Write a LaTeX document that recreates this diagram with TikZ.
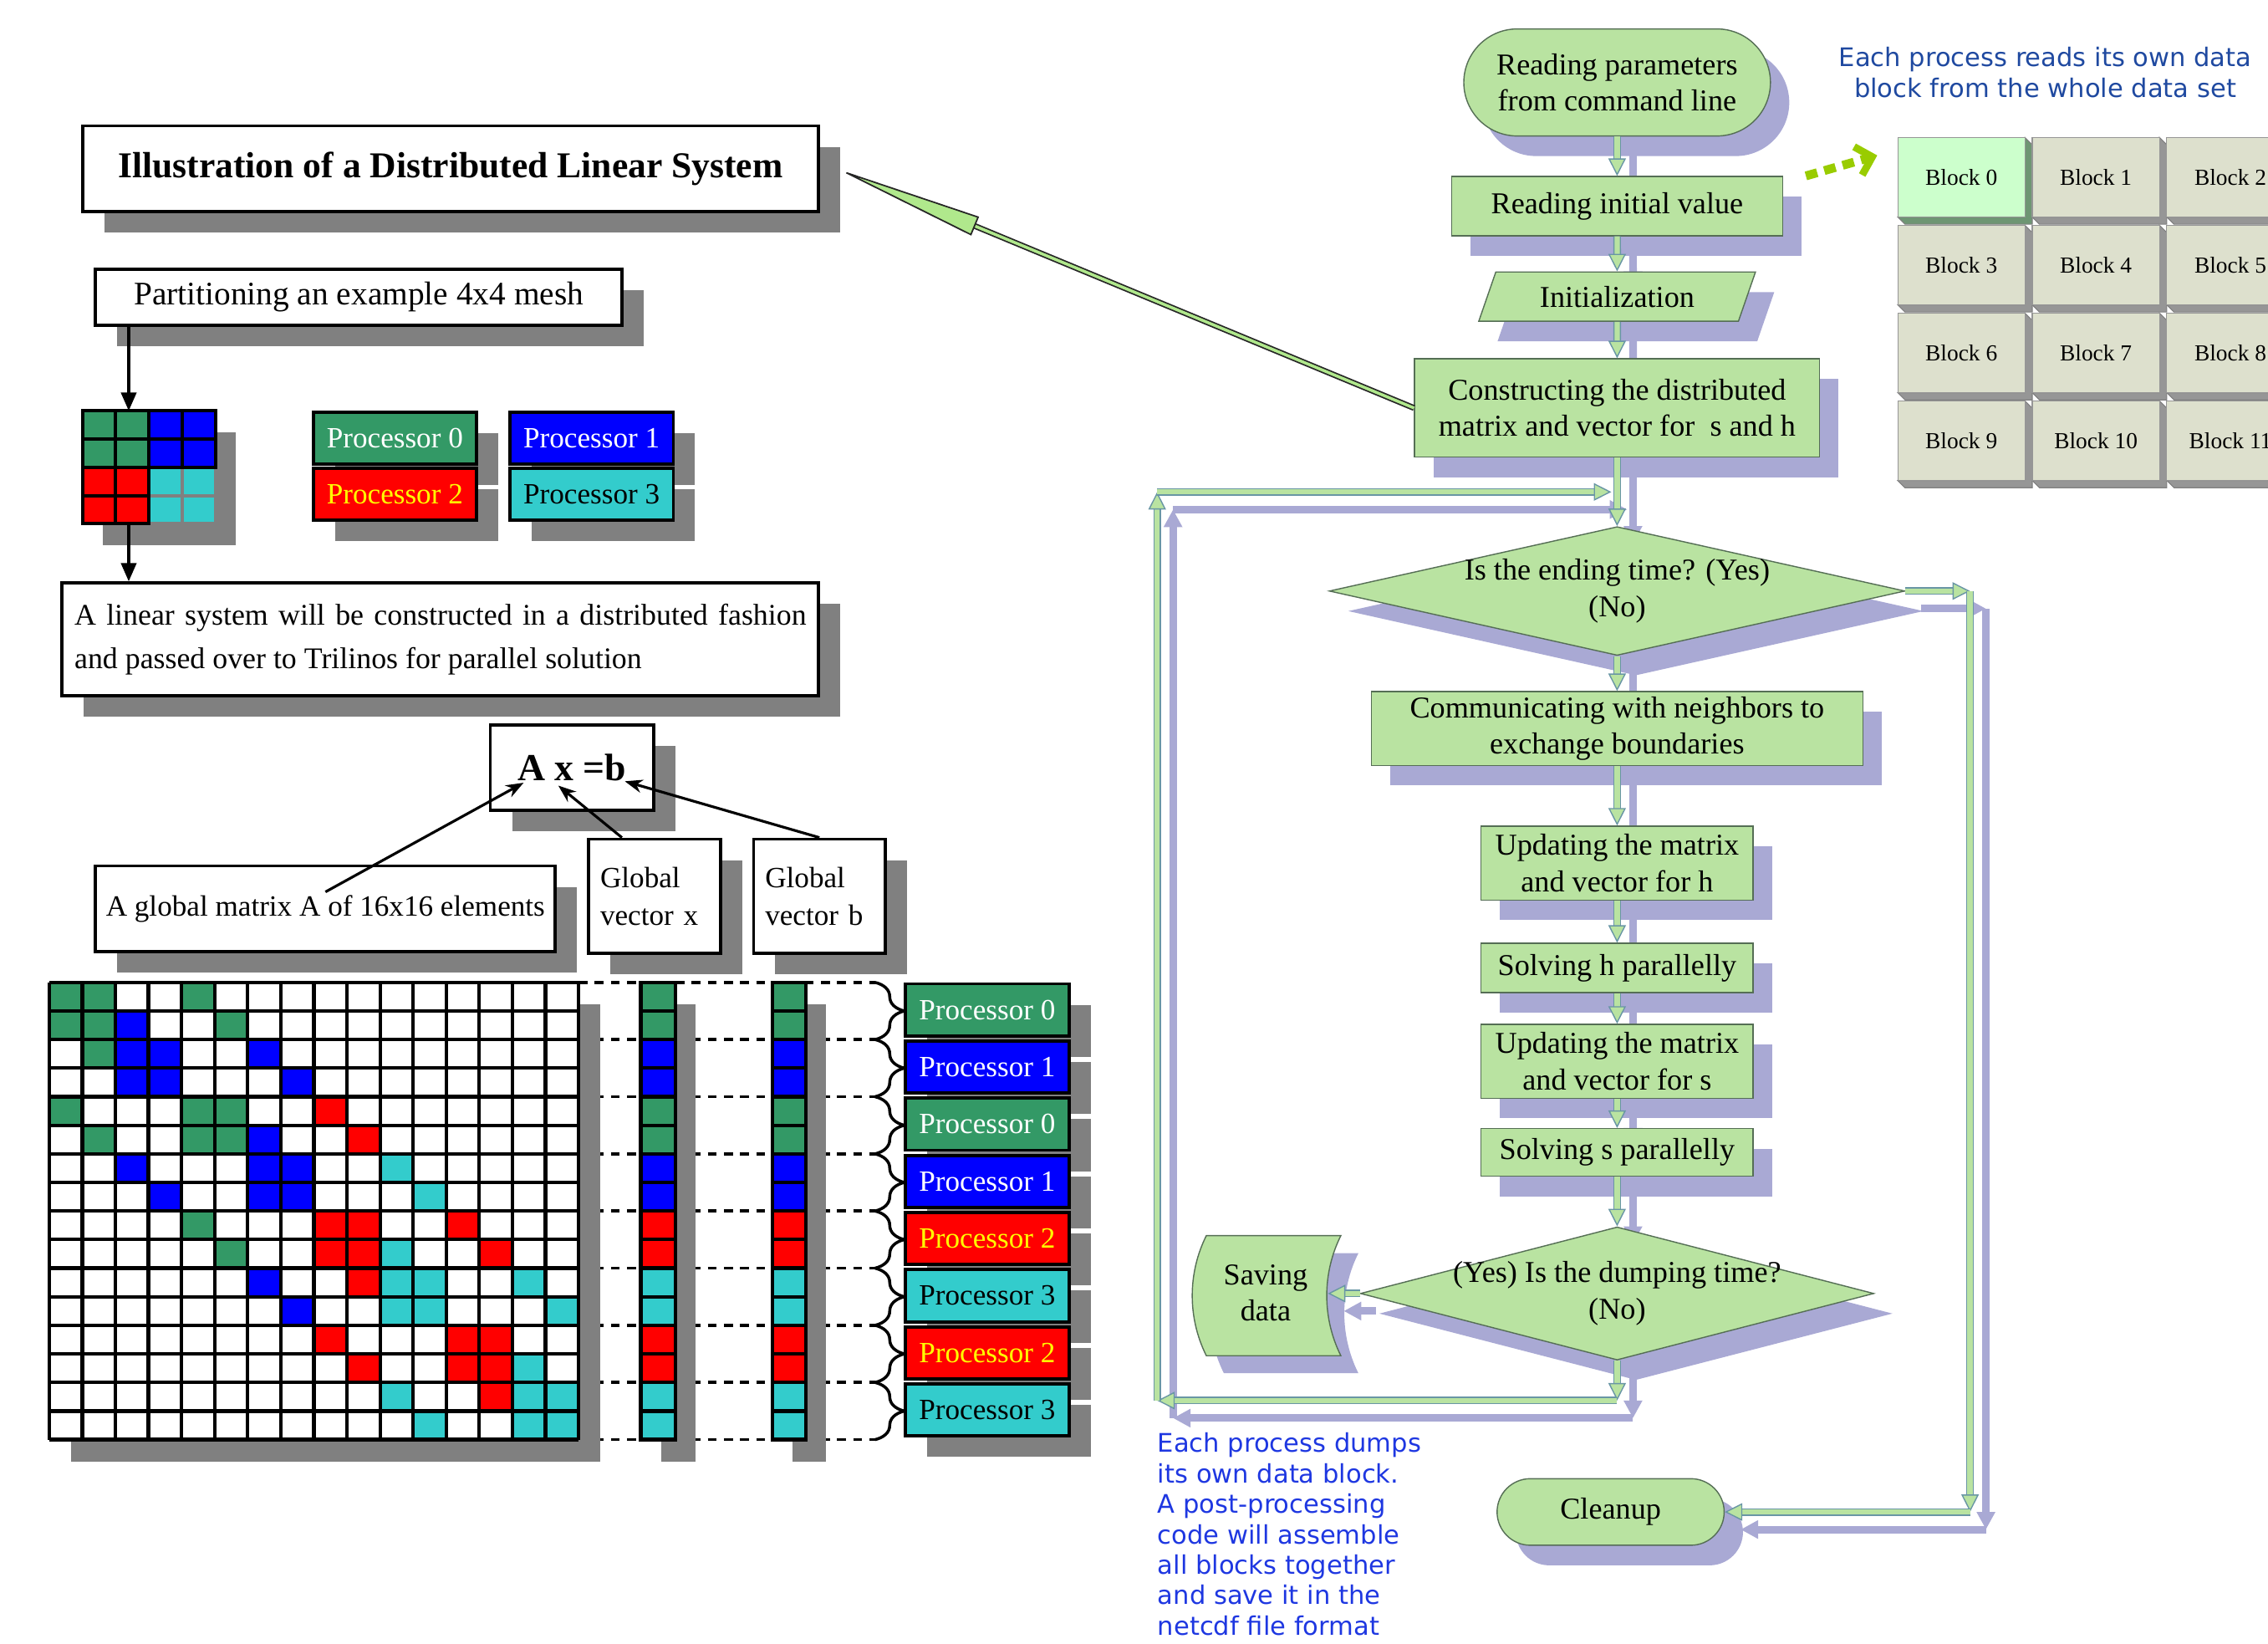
\documentclass[tikz,border=0pt]{standalone}
\usepackage{fontspec}
\setmainfont{Liberation Serif}
\newfontfamily\notefont{DejaVu Sans}
\usetikzlibrary{arrows.meta,shapes.geometric,shapes.misc,shadows,decorations.pathreplacing,backgrounds}

\definecolor{G}{RGB}{51,153,102}
\definecolor{B}{RGB}{0,0,255}
\definecolor{R}{RGB}{255,0,0}
\definecolor{C}{RGB}{51,204,204}
\definecolor{procyellow}{RGB}{255,255,0}
\definecolor{boxshadow}{RGB}{128,128,128}
\definecolor{flowfill}{RGB}{185,227,161}
\definecolor{flowshadow}{RGB}{169,169,212}
\definecolor{flowedge}{RGB}{85,110,85}
\definecolor{linkedge}{RGB}{105,150,165}
\definecolor{blockface}{RGB}{221,224,205}
\definecolor{blockbevel}{RGB}{150,150,150}
\definecolor{blockzero}{RGB}{204,255,204}
\definecolor{blockzerobevel}{RGB}{110,150,115}
\definecolor{readblue}{RGB}{31,73,160}
\definecolor{dumpblue}{RGB}{30,55,225}
\definecolor{readarrow}{RGB}{153,204,0}
\definecolor{titlegreen}{RGB}{176,232,140}

\newcommand\upx{0.0173cm}
\newcommand\flowfont{\fontsize{10.3}{12.3}\selectfont}
\newcommand\flowlink[1]{%
  \draw[flowarrow] #1;
  \begin{pgfonlayer}{background}\draw[flowarrowshadow] #1;\end{pgfonlayer}}

\begin{document}
\begin{tikzpicture}[x=\upx, y=-\upx,
  plainbox/.style={draw, line width=1.1pt, fill=white, inner sep=0pt,
    drop shadow={shadow xshift=0.26cm, shadow yshift=-0.25cm, fill=boxshadow, opacity=1}},
  proc/.style={plainbox, minimum width=113*\upx, minimum height=36*\upx,
    font=\fontsize{10}{12}\selectfont},
  blackarrow/.style={line width=1.1pt, -{Triangle[length=0.22cm, width=0.18cm]}},
  eqpointer/.style={line width=0.9pt, -{Stealth[length=6pt, width=4.5pt]}},
  flow/.style={draw=flowedge, line width=0.4pt, fill=flowfill, inner sep=0pt,
    align=center, font=\flowfont,
    drop shadow={shadow xshift=0.225cm, shadow yshift=-0.24cm, fill=flowshadow, opacity=1}},
  flowtext/.style={inner sep=0pt, align=center, font=\flowfont},
  flowarrow/.style={draw=linkedge, line width=0.4pt, double=flowfill, double distance=1.8pt,
    -{Triangle[length=0.21cm, width=0.21cm, fill=flowfill, line width=0.4pt]}},
  flowarrowshadow/.style={draw=flowshadow, line width=2.6pt,
    -{Triangle[length=0.21cm, width=0.21cm]},
    transform canvas={xshift=0.19cm, yshift=-0.21cm}},
  blockbox/.style={draw=blockbevel, line width=0.3pt, minimum width=88*\upx,
    minimum height=55*\upx, inner sep=0pt, font=\fontsize{7.8}{9}\selectfont},
  notetext/.style={inner sep=0pt, font=\notefont\fontsize{8.7}{10.6}\selectfont},
  titlelink/.style={draw=black!85, line width=0.5pt, double=titlegreen, double distance=1pt,
    -{Triangle[length=1.8cm, width=0.24cm, fill=titlegreen, line width=0.5pt]}},
  blockarrow/.style={readarrow, line width=3pt, dash pattern=on 4pt off 2.5pt,
    -{Straight Barb[length=5pt, width=10pt, line width=2.5pt]}}]

\path[use as bounding box, clip] (0,0) rectangle (1568,1136);

% left: the distributed linear system
\node[plainbox, minimum width=509*\upx, minimum height=59*\upx,
  font=\bfseries\fontsize{12.4}{15}\selectfont] (title) at (311.5,116.5)
  {Illustration of a Distributed Linear System};
\node[plainbox, minimum width=364*\upx, minimum height=39*\upx,
  font=\fontsize{11.2}{13}\selectfont] (part) at (248,205.5)
  {Partitioning an example 4x4 mesh};

\fill[boxshadow] (71,299) rectangle (163,377);
\foreach \mr/\mc/\col/\edge in {2/2/C/gray,2/3/C/gray,3/2/C/gray,3/3/C/gray,
    0/0/G/black,0/1/G/black,1/0/G/black,1/1/G/black,0/2/B/black,0/3/B/black,
    1/2/B/black,1/3/B/black,2/0/R/black,2/1/R/black,3/0/R/black,3/1/R/black}
  \filldraw[fill=\col, draw=\edge, line width=1.1pt] (57+23*\mc,284+19.5*\mr) rectangle ++(23,19.5);
\coordinate (meshtop) at (89,284);
\coordinate (meshbot) at (89,362);

\node[proc, fill=G, text=white] (leg0) at (273,303) {Processor 0};
\node[proc, fill=B, text=white] (leg1) at (409,303) {Processor 1};
\node[proc, fill=R, text=procyellow] (leg2) at (273,341.5) {Processor 2};
\node[proc, fill=C] (leg3) at (409,341.5) {Processor 3};

\node[plainbox, minimum width=523*\upx, minimum height=78*\upx, text width=506*\upx,
  align=justify, font=\fontsize{10.2}{15}\selectfont] (lin) at (304.5,442)
  {A linear system will be constructed in a distributed fashion and passed over to Trilinos for parallel solution};

\draw[blackarrow] (part.south -| meshtop) -- (meshtop);
\draw[blackarrow] (meshbot) -- (meshbot |- lin.north);

\node[plainbox, minimum width=113*\upx, minimum height=59*\upx,
  font=\bfseries\fontsize{13}{15}\selectfont] (axb) at (395.5,530.5) {A x =b};
\node[plainbox, minimum width=318*\upx, minimum height=59*\upx,
  font=\fontsize{10}{12}\selectfont] (gmat) at (225,628)
  {A global matrix A of 16x16 elements};
\node[plainbox, minimum width=91*\upx, minimum height=79*\upx, text width=75*\upx,
  align=left, font=\fontsize{10}{12.8}\selectfont] (gvx) at (452.5,619.5) {Global\\vector x};
\node[plainbox, minimum width=91*\upx, minimum height=79*\upx, text width=75*\upx,
  align=left, font=\fontsize{10}{12.8}\selectfont] (gvb) at (566.5,619.5) {Global\\vector b};
\coordinate (tipA) at (362,541);
\coordinate (tipx) at (386,543);
\coordinate (tipb) at (432,540);
\draw[eqpointer] ([yshift=0.2cm]gmat.center) -- (tipA);
\draw[eqpointer] ([xshift=-0.39cm]gvx.north) -- (tipx);
\draw[eqpointer] (gvb.north) -- (tipb);

\foreach \k in {0,...,8}
  \draw[line width=1pt, dash pattern=on 3pt off 2.5pt] (400,679+39.5*\k) -- (605,679+39.5*\k);
\fill[boxshadow] (49,694) rectangle (415,1010);
\fill[boxshadow] (457,694) rectangle (481,1010);
\fill[boxshadow] (548,694) rectangle (571,1010);
\fill[white] (34,679) rectangle (400,995);
\foreach \cols [count=\mr from 0] in {{0,1,4},{0,1,2,5},{1,2,3,6},{2,3,7},{0,4,5,8},
    {1,4,5,6,9},{2,6,7,10},{3,6,7,11},{4,8,9,12},{5,8,9,10,13},{6,9,10,11,14},
    {7,10,11,15},{8,12,13},{9,12,13,14},{10,13,14,15},{11,14,15}}
  \foreach \mc in \cols {
    \pgfmathsetmacro\own{{"G","B","G","B","R","C","R","C"}[int(\mc/2)]}
    \fill[\own] (34+22.875*\mc,679+19.75*\mr) rectangle ++(22.875,19.75);
  }
\foreach \i in {0,...,16} {
  \draw[line width=1.2pt] (34+22.875*\i,679) -- ++(0,316);
  \draw[line width=1.2pt] (34,679+19.75*\i) -- ++(366,0);
}
\foreach \col [count=\mr from 0] in {G,G,B,B,G,G,B,B,R,R,C,C,R,R,C,C} {
  \filldraw[fill=\col, line width=1.2pt] (443,679+19.75*\mr) rectangle ++(24,19.75);
  \filldraw[fill=\col, line width=1.2pt] (534,679+19.75*\mr) rectangle ++(23,19.75);
}
\foreach \k in {0,...,7}
  \draw[line width=1pt, decorate, decoration={brace, amplitude=0.35cm}]
    (605,679+39.5*\k) -- (605,718.5+39.5*\k);
\foreach \lab/\fc/\tc [count=\k from 0] in {0/G/white,1/B/white,0/G/white,1/B/white,
    2/R/procyellow,3/C/black,2/R/procyellow,3/C/black}
  \node[proc, fill=\fc, text=\tc] (owner\k) at (682.5,698+39.5*\k) {Processor \lab};

% right: the flowchart
\node[flow, rounded rectangle, minimum width=212*\upx, minimum height=74*\upx] (start)
  at (1118,57) {Reading parameters\\from command line};
\node[flow, minimum width=229*\upx, minimum height=41*\upx] (readinit)
  at (1118,142.5) {Reading initial value};
\node[flow, trapezium, trapezium left angle=63, trapezium right angle=117,
  trapezium stretches=true, minimum width=192*\upx, minimum height=34*\upx] (init)
  at (1118,205) {Initialization};
\node[flow, minimum width=280*\upx, minimum height=68*\upx] (build)
  at (1118,282) {Constructing the distributed\\matrix and vector for\ \ s and h};
\node[flow, diamond, minimum width=398*\upx, minimum height=89*\upx] (endq) at (1118,408.5) {};
\node[flowtext] (endqlabel) at (endq) {Is the ending time? (Yes)\\(No)};
\node[flow, minimum width=340*\upx, minimum height=51*\upx] (comm)
  at (1118,503.5) {Communicating with neighbors to\\exchange boundaries};
\node[flow, minimum width=188*\upx, minimum height=51*\upx] (updh)
  at (1118,596.5) {Updating the matrix\\and vector for h};
\node[flow, minimum width=188*\upx, minimum height=34*\upx] (solveh)
  at (1118,669) {Solving h parallelly};
\node[flow, minimum width=188*\upx, minimum height=51*\upx] (upds)
  at (1118,733.5) {Updating the matrix\\and vector for s};
\node[flow, minimum width=188*\upx, minimum height=33*\upx] (solves)
  at (1118,796.5) {Solving s parallelly};
\node[flow, diamond, minimum width=355*\upx, minimum height=92*\upx] (dumpq) at (1118,894) {};
\node[flowtext] (dumpqlabel) at (dumpq) {(Yes) Is the dumping time?\\(No)};
\filldraw[fill=flowfill, draw=flowedge, line width=0.4pt,
  drop shadow={shadow xshift=0.21cm, shadow yshift=-0.21cm, fill=flowshadow, opacity=1}]
  (834,854) -- (927,854) .. controls (914,880) and (914,911) .. (927,937)
  -- (834,937) .. controls (821,911) and (821,880) .. (834,854) -- cycle;
\node[flowtext] (save) at (875,893.5) {Saving\\data};
\node[flow, rounded rectangle, minimum width=157*\upx, minimum height=46*\upx] (clean)
  at (1113.5,1045) {Cleanup};

\coordinate (savein) at (918,894);
\coordinate (lp1) at (1118,968);
\coordinate (lp2) at (800,968);
\coordinate (lp3) at (800,340);
\coordinate (lp4) at (1114,340);
\coordinate (ry1) at (1362,408.5);

\flowlink{(start.south) -- (readinit.north)}
\flowlink{(readinit.south) -- (init.north)}
\flowlink{(init.south) -- (build.north)}
\flowlink{(build.south) -- (endq.north)}
\flowlink{(endq.south) -- (comm.north)}
\flowlink{(comm.south) -- (updh.north)}
\flowlink{(updh.south) -- (solveh.north)}
\flowlink{(solveh.south) -- (upds.north)}
\flowlink{(upds.south) -- (solves.north)}
\flowlink{(solves.south) -- (dumpq.north)}
\flowlink{(dumpq.west) -- (savein)}
\flowlink{(dumpq.south) -- (lp1)}
\flowlink{(lp1) -- (lp2)}
\flowlink{(lp2) -- (lp3)}
\flowlink{(lp3) -- (lp4)}
\flowlink{(endq.east) -- (ry1)}
\flowlink{(ry1) -- (ry1 |- clean.east)}
\flowlink{(ry1 |- clean.east) -- (clean.east)}

\draw[titlelink] (build.west) -- ([xshift=0.19cm]title.east);

% data blocks
\foreach \n in {0,...,11} {
  \pgfmathtruncatemacro\bc{mod(\n,3)}
  \pgfmathtruncatemacro\br{int(\n/3)}
  \pgfmathsetmacro\bx{1312+93*\bc}
  \pgfmathsetmacro\by{95+60.7*\br}
  \ifnum\n=0 \colorlet{thisface}{blockzero}\colorlet{thisbevel}{blockzerobevel}
  \else \colorlet{thisface}{blockface}\colorlet{thisbevel}{blockbevel}\fi
  \filldraw[fill=thisbevel, draw=black!50, line width=0.3pt] (\bx,\by+55) -- ++(88,0) -- ++(0,-55)
    -- ++(5,5) -- ++(0,55) -- ++(-88,0) -- cycle;
  \node[blockbox, fill=thisface] (blk\n) at (\bx+44,\by+27.5) {Block \n};
}
\draw[blockarrow] ([xshift=0.27cm]readinit.north east) -- ([xshift=-0.24cm, yshift=-0.22cm]blk0.north west);

\node[notetext, text=readblue, align=center] (readnote) at (1414,50)
  {Each process reads its own data\\block from the whole data set};
\node[notetext, text=dumpblue, align=left, anchor=north west,
  font=\notefont\fontsize{8.7}{10.35}\selectfont] (dumpnote) at (800,990)
  {Each process dumps\\its own data block.\\A post-processing\\code will assemble\\all blocks together\\and save it in the\\netcdf file format};
\end{tikzpicture}
\end{document}
